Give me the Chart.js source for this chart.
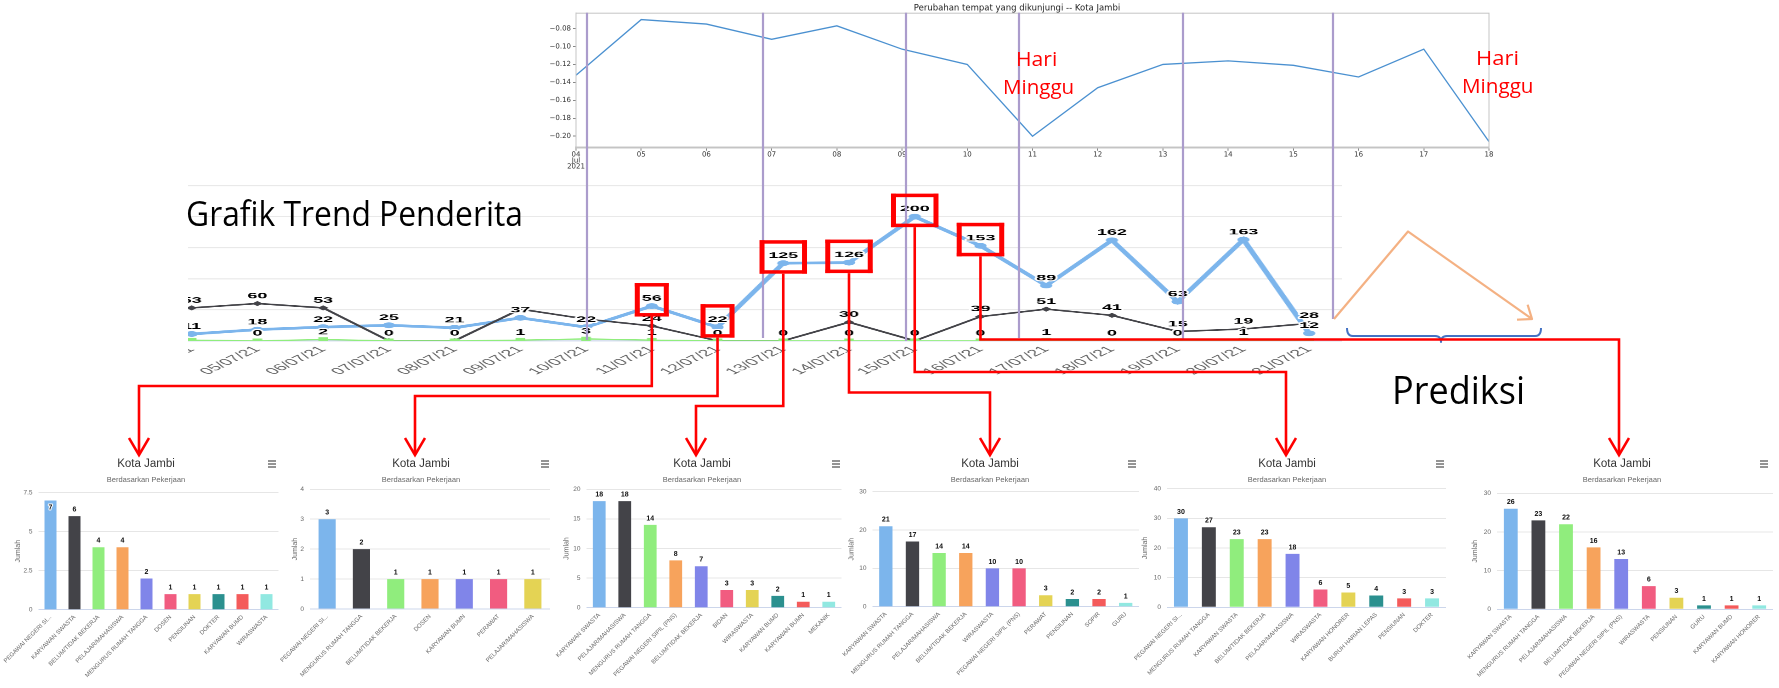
<!DOCTYPE html>
<html><head><meta charset="utf-8">
<script src="https://cdn.jsdelivr.net/npm/chart.js@4.4.1/dist/chart.umd.min.js"></script>
<style>
html,body{margin:0;padding:0;background:#fff;width:1779px;height:688px;overflow:hidden;position:relative}
canvas{display:block}
.txt{position:absolute;white-space:nowrap;line-height:1;font-family:"Open Sans","Noto Sans",sans-serif;transform-origin:0 0;z-index:12}
</style></head><body>
<script>
// ---------------- DATA ----------------
const mobilityDates = ['04','05','06','07','08','09','10','11','12','13','14','15','16','17','18'];
const mobilityValues = [-0.132,-0.070,-0.075,-0.092,-0.077,-0.103,-0.120,-0.200,-0.146,-0.120,-0.116,-0.121,-0.134,-0.103,-0.206];
const mobilityTicks = [-0.08,-0.10,-0.12,-0.14,-0.16,-0.18,-0.20];
const mobilityTitle = 'Perubahan tempat yang dikunjungi -- Kota Jambi';

const trendDates = ['04/07/21','05/07/21','06/07/21','07/07/21','08/07/21','09/07/21','10/07/21','11/07/21','12/07/21','13/07/21','14/07/21','15/07/21','16/07/21','17/07/21','18/07/21','19/07/21','20/07/21','21/07/21'];
const trendBlue  = [11,18,22,25,21,37,22,56,22,125,126,200,153,89,162,63,163,12];
const trendDark  = [53,60,53,0,0,51,35,24,0,0,30,0,39,51,41,15,19,28];
const trendGreen = [1,0,2,0,0,1,3,1,0,0,0,0,0,1,0,0,1,0];
const trendGridTicks = [0,50,100,150,200,250];
const highlightIdx = [7,8,9,10,11,12];

const panelTitle = 'Kota Jambi';
const panelSubtitle = 'Berdasarkan Pekerjaan';
const yAxisTitle = 'Jumlah';

const p1Categories = ['PEGAWAI NEGERI SI...','KARYAWAN SWASTA','BELUM/TIDAK BEKERJA','PELAJAR/MAHASISWA','MENGURUS RUMAH TANGGA','DOSEN','PENSIUNAN','DOKTER','KARYAWAN BUMD','WIRASWASTA'];
const p1Values = [7,6,4,4,2,1,1,1,1,1];
const p2Categories = ['PEGAWAI NEGERI SI...','MENGURUS RUMAH TANGGA','BELUM/TIDAK BEKERJA','DOSEN','KARYAWAN BUMN','PERAWAT','PELAJAR/MAHASISWA'];
const p2Values = [3,2,1,1,1,1,1];
const p3Categories = ['KARYAWAN SWASTA','PELAJAR/MAHASISWA','MENGURUS RUMAH TANGGA','PEGAWAI NEGERI SIPIL (PNS)','BELUM/TIDAK BEKERJA','BIDAN','WIRASWASTA','KARYAWAN BUMD','KARYAWAN BUMN','MEKANIK'];
const p3Values = [18,18,14,8,7,3,3,2,1,1];
const p4Categories = ['KARYAWAN SWASTA','MENGURUS RUMAH TANGGA','PELAJAR/MAHASISWA','BELUM/TIDAK BEKERJA','WIRASWASTA','PEGAWAI NEGERI SIPIL (PNS)','PERAWAT','PENSIUNAN','SOPIR','GURU'];
const p4Values = [21,17,14,14,10,10,3,2,2,1];
const p5Categories = ['PEGAWAI NEGERI SI...','MENGURUS RUMAH TANGGA','KARYAWAN SWASTA','BELUM/TIDAK BEKERJA','PELAJAR/MAHASISWA','WIRASWASTA','KARYAWAN HONORER','BURUH HARIAN LEPAS','PENSIUNAN','DOKTER'];
const p5Values = [30,27,23,23,18,6,5,4,3,3];
const p6Categories = ['KARYAWAN SWASTA','MENGURUS RUMAH TANGGA','PELAJAR/MAHASISWA','BELUM/TIDAK BEKERJA','PEGAWAI NEGERI SIPIL (PNS)','WIRASWASTA','PENSIUNAN','GURU','KARYAWAN BUMD','KARYAWAN HONORER'];
const p6Values = [26,23,22,16,13,6,3,1,1,1];
const panelTickMax = [7.5,4,20,30,40,30];
const panelTickStep = [2.5,1,5,10,10,10];

// ---------------- STYLE / LAYOUT ----------------
const FONT = '"Liberation Sans", Arial, sans-serif';
const NARROW = '"Liberation Sans Narrow", "Liberation Sans", Arial, sans-serif';
const palette = ['#7cb5ec','#434348','#90ed7d','#f7a35c','#8085e9','#f15c80','#e4d354','#2b908f','#f45b5b','#91e8e1'];

function addCanvas(parent, left, top, w, h, extra){
  const c = document.createElement('canvas');
  c.width = w; c.height = h;
  c.style.cssText = `position:absolute;left:${left}px;top:${top}px;width:${w}px;height:${h}px;` + (extra||'');
  parent.appendChild(c);
  return c;
}

// ---------- top chart (mobility) ----------
const topFrame = {id:'topFrame', afterDraw(c){const a=c.chartArea,ctx=c.ctx;ctx.save();ctx.strokeStyle='#c4c4c4';ctx.lineWidth=1;
  ctx.strokeRect(a.left,a.top,a.right-a.left,a.bottom-a.top);ctx.restore();}};
const topCanvas = addCanvas(document.body, 545, 0, 975, 172, 'z-index:3;');
new Chart(topCanvas, {
  type:'line',
  data:{labels: mobilityDates.map((d,i)=> i===0 ? [d,'Jul','2021'] : d),
        datasets:[{data:mobilityValues, borderColor:'#4a90d0', borderWidth:1.3, pointRadius:0, tension:0, fill:false}]},
  options:{responsive:false, animation:false, devicePixelRatio:2,
    layout:{padding:{left:0,right:31,top:0,bottom:0}},
    plugins:{legend:{display:false}, tooltip:{enabled:false},
      title:{display:true, text:mobilityTitle, color:'#222', font:{size:8.5,family:'"DejaVu Sans", sans-serif',weight:'normal'}, padding:{top:3,bottom:0}}},
    scales:{
      x:{offset:false, grid:{drawOnChartArea:false, drawTicks:true, tickLength:3, color:'#888'}, border:{display:true,color:'#c8c8c8',width:2},
         ticks:{color:'#333', font:{size:7, family:'"DejaVu Sans", sans-serif', lineHeight:0.85}, maxRotation:0, autoSkip:false, padding:1},
         afterFit(s){s.height=24.3; s.paddingLeft=0; s.paddingRight=0;}},
      y:{min:-0.2128, max:-0.0629, afterBuildTicks(s){s.ticks = mobilityTicks.map(v=>({value:v}));},
         grid:{drawOnChartArea:false, drawTicks:true, tickLength:3, color:'#888'}, border:{display:true,color:'#c4c4c4'},
         ticks:{color:'#333', font:{size:7, family:'"DejaVu Sans", sans-serif'}, padding:2, callback:v=>'\u2212'+Math.abs(v).toFixed(2)},
         afterFit(s){s.width=31; s.paddingTop=0; s.paddingBottom=0;}}
    }
  },
  plugins:[topFrame]
});

// ---------- trend chart ----------
const SX = 1.7, SY = 0.8, WRAP_L = 188, WRAP_T = 170, CV_L = -36;
const wrap = document.createElement('div');
wrap.style.cssText = `position:absolute;left:${WRAP_L}px;top:${WRAP_T}px;width:${1779-WRAP_L}px;height:240px;overflow:hidden;z-index:2;`;
document.body.appendChild(wrap);
const trendCanvas = addCanvas(wrap, CV_L, 0, 704, 274, 'transform:scale('+SX+','+SY+');transform-origin:0 0;');

const trendLabels = {id:'trendLabels', afterDatasetsDraw(chart){
  const ctx = chart.ctx; ctx.save();
  ctx.font = 'bold 10.5px ' + FONT; ctx.textAlign='center'; ctx.textBaseline='middle'; ctx.lineJoin='round';
  const placed = [];
  chart.data.datasets.forEach((ds,di)=>{
    chart.getDatasetMeta(di).data.forEach((pt,i)=>{
      const t = String(ds.data[i]); const x = pt.x, y = pt.y - 9.5; const w = ctx.measureText(t).width;
      if (placed.some(p => Math.abs(p.x-x) < (p.w+w)/2 && Math.abs(p.y-y) < 11.2)) return;
      placed.push({x,y,w});
      ctx.lineWidth = 2.6; ctx.strokeStyle = '#fff'; ctx.strokeText(t,x,y);
      ctx.fillStyle = '#000'; ctx.fillText(t,x,y);
    });
  });
  ctx.restore();
}};

const trendChart = new Chart(trendCanvas, {
  type:'line',
  data:{labels:trendDates, datasets:[
    {data:trendBlue, borderColor:'#7cb5ec', backgroundColor:'#7cb5ec', borderWidth:3.5, pointStyle:'circle', pointRadius:3.6, pointBorderWidth:0, pointBackgroundColor:'#7cb5ec', tension:0, order:3},
    {data:trendDark, borderColor:'#434348', backgroundColor:'#434348', borderWidth:2, pointStyle:'rectRot', pointRadius:3.2, pointBorderWidth:0, pointBackgroundColor:'#434348', tension:0, order:2},
    {data:trendGreen, borderColor:'#90ed7d', backgroundColor:'#90ed7d', borderWidth:1.6, pointStyle:'rect', pointRadius:4, pointBorderWidth:0, pointBackgroundColor:'#90ed7d', tension:0, order:1}
  ]},
  options:{responsive:false, animation:false, devicePixelRatio:2,
    layout:{padding:{left:0,right:3.4,top:19.5,bottom:0}},
    plugins:{legend:{display:false}, tooltip:{enabled:false}},
    scales:{
      x:{offset:true, grid:{display:false, drawTicks:false}, border:{display:false},
         ticks:{color:'#666', font:{size:11.5, family:FONT}, minRotation:45, maxRotation:45, autoSkip:false, padding:4},
         afterFit(s){s.height=60.5; s.paddingLeft=0; s.paddingRight=0;}},
      y:{min:0, max:250, afterBuildTicks(s){s.ticks = trendGridTicks.map(v=>({value:v}));},
         ticks:{display:false}, border:{display:false},
         grid:{color:c=>c.tick.value===0?'#ccd6eb':'#e9e9e9', drawTicks:false, lineWidth:1.2},
         afterFit(s){s.width=0; s.paddingTop=0; s.paddingBottom=0;}}
    }
  },
  plugins:[trendLabels]
});

// ---------- bar panels ----------
const panelLayouts = [
  {canvasLeft:0,    canvasRight:292,  plotL:38.5,  plotR:278.5, plotTop:492.7, plotBottom:609.7, titleX:146,  menuX:272,  yTitleX:18},
  {canvasLeft:262,  canvasRight:558,  plotL:310,   plotR:550,   plotTop:489.3, plotBottom:609,   titleX:421,  menuX:545,  yTitleX:295},
  {canvasLeft:530,  canvasRight:850,  plotL:586.5, plotR:841.5, plotTop:489.3, plotBottom:607.7, titleX:702,  menuX:836,  yTitleX:566.7},
  {canvasLeft:810,  canvasRight:1147, plotL:872.5, plotR:1139,  plotTop:491.7, plotBottom:606.7, titleX:990,  menuX:1132, yTitleX:851.7},
  {canvasLeft:1100, canvasRight:1454, plotL:1167,  plotR:1446,  plotTop:488.7, plotBottom:607.3, titleX:1287, menuX:1440, yTitleX:1145},
  {canvasLeft:1440, canvasRight:1779, plotL:1497,  plotR:1773,  plotTop:493.3, plotBottom:609.3, titleX:1622, menuX:1764, yTitleX:1475}
];
const PANEL_TOP = 450, PANEL_H = 238;

const barLabels = {id:'barLabels', afterDatasetsDraw(chart){
  const ctx = chart.ctx, ds = chart.data.datasets[0]; ctx.save();
  ctx.font = 'bold 7px ' + FONT; ctx.textAlign='center'; ctx.textBaseline='middle'; ctx.lineJoin='round';
  chart.getDatasetMeta(0).data.forEach((b,i)=>{
    let y = b.y - 6.5; if (y - 4 < chart.chartArea.top) y = b.y + 7;
    const t = String(ds.data[i]);
    ctx.lineWidth = 2; ctx.strokeStyle='#fff'; ctx.strokeText(t,b.x,y);
    ctx.fillStyle = '#111'; ctx.fillText(t,b.x,y);
  });
  ctx.restore();
}};
function panelDecor(L){ return {id:'panelDecor', afterDraw(chart){
  const ctx = chart.ctx, ox = L.canvasLeft, oy = PANEL_TOP; ctx.save();
  ctx.textAlign='center'; ctx.textBaseline='middle';
  ctx.font = '11.5px ' + NARROW; ctx.fillStyle = '#333'; ctx.fillText(panelTitle, L.titleX-ox, 464-oy);
  ctx.font = '7.5px ' + NARROW; ctx.fillStyle = '#666'; ctx.fillText(panelSubtitle, L.titleX-ox, 480-oy);
  ctx.strokeStyle = '#666'; ctx.lineWidth = 1.4;
  [-3,0,3].forEach(k=>{ctx.beginPath(); ctx.moveTo(L.menuX-ox-4, 464-oy+k); ctx.lineTo(L.menuX-ox+4, 464-oy+k); ctx.stroke();});
  ctx.restore();
}};}

function makePanel(idx, cats, vals){
  const L = panelLayouts[idx];
  const w = L.canvasRight - L.canvasLeft;
  const c = addCanvas(document.body, L.canvasLeft, PANEL_TOP, w, PANEL_H, 'z-index:1;');
  const axisBoxLeft = L.yTitleX - 5;
  new Chart(c, {
    type:'bar',
    data:{labels:cats, datasets:[{data:vals, backgroundColor:palette.slice(0, vals.length), borderWidth:0, barPercentage:0.5, categoryPercentage:1}]},
    options:{responsive:false, animation:false, devicePixelRatio:2,
      layout:{padding:{left:axisBoxLeft-L.canvasLeft, right:L.canvasRight-L.plotR, top:L.plotTop-PANEL_TOP, bottom:0}},
      plugins:{legend:{display:false}, tooltip:{enabled:false}},
      scales:{
        x:{grid:{display:false, drawTicks:false}, border:{display:false},
           ticks:{color:'#666', font:{size:6, family:FONT}, minRotation:45, maxRotation:45, autoSkip:false, padding:4},
           afterFit(s){s.height = PANEL_TOP + PANEL_H - L.plotBottom; s.paddingLeft=0; s.paddingRight=0;}},
        y:{min:0, max:panelTickMax[idx], ticks:{stepSize:panelTickStep[idx], color:'#666', font:{size:6.5, family:FONT}, padding:6},
           grid:{color:c=>c.tick.value===0?'#ccd6eb':'#e6e6e6', drawTicks:false}, border:{display:false},
           title:{display:true, text:yAxisTitle, color:'#666', font:{size:7, family:FONT}, padding:{top:0.8,bottom:0}},
           afterFit(s){s.width = L.plotL - axisBoxLeft; s.paddingTop=0; s.paddingBottom=0;}}
      }
    },
    plugins:[barLabels, panelDecor(L)]
  });
}
makePanel(0, p1Categories, p1Values);
makePanel(1, p2Categories, p2Values);
makePanel(2, p3Categories, p3Values);
makePanel(3, p4Categories, p4Values);
makePanel(4, p5Categories, p5Values);
makePanel(5, p6Categories, p6Values);

// ---------- overlay annotations ----------
const guideX = [587, 763, 906, 1019, 1183, 1333];
const guideBottom = [340, 338, 341, 338, 340, 319];
const linkLevel = [386, 396, 406, 392.5, 372, 339.5];
const linkTarget = [139, 415, 696, 990, 1286, 1619];
const arrowTipY = 455;

const ov = addCanvas(document.body, 0, 0, 1779, 688, 'z-index:10;pointer-events:none;');
ov.width = 1779*2; ov.height = 688*2;
(function(){
  const ctx = ov.getContext('2d'); ctx.scale(2,2);
  // purple guide lines
  ctx.strokeStyle = '#ab9ccc'; ctx.lineWidth = 2.2;
  guideX.forEach((x,k)=>{ctx.beginPath(); ctx.moveTo(x,12.7); ctx.lineTo(x,guideBottom[k]); ctx.stroke();});
  // orange prediction arrow
  ctx.strokeStyle = '#f4b183'; ctx.lineWidth = 2.2; ctx.lineJoin='round';
  const a0=[1334,319], a1=[1408,231.5], a2=[1532,319];
  ctx.beginPath(); ctx.moveTo(a0[0],a0[1]); ctx.lineTo(a1[0],a1[1]); ctx.lineTo(a2[0],a2[1]); ctx.stroke();
  const ang = Math.atan2(a2[1]-a1[1], a2[0]-a1[0]) + Math.PI;
  ctx.beginPath();
  ctx.moveTo(a2[0]+15*Math.cos(ang-0.66), a2[1]+15*Math.sin(ang-0.66));
  ctx.lineTo(a2[0],a2[1]);
  ctx.lineTo(a2[0]+15*Math.cos(ang+0.66), a2[1]+15*Math.sin(ang+0.66));
  ctx.stroke();
  // blue brace
  ctx.strokeStyle = '#4472c4'; ctx.lineWidth = 2;
  ctx.beginPath(); ctx.moveTo(1347,328); ctx.quadraticCurveTo(1347,336,1353,336); ctx.lineTo(1435,336);
  ctx.quadraticCurveTo(1441,336,1441,342); ctx.quadraticCurveTo(1441,336,1447,336); ctx.lineTo(1535,336);
  ctx.quadraticCurveTo(1541,336,1541,328); ctx.stroke();
  // red boxes and connectors
  const meta = trendChart.getDatasetMeta(0);
  ctx.fillStyle = '#ff0000'; ctx.strokeStyle = '#ff0000'; ctx.lineJoin='miter';
  highlightIdx.forEach((idx,k)=>{
    const p = meta.data[idx];
    const px = WRAP_L + CV_L + p.x*SX, py = WRAP_T + p.y*SY;
    const w = 7 + 13.5*String(trendBlue[idx]).length;
    const top = py - 23, bot = py + 10.5, l = px - w/2;
    ctx.fillRect(l, top, w, 3.5); ctx.fillRect(l, bot-3.5, w, 3.5);
    ctx.fillRect(l, top, 5, bot-top); ctx.fillRect(l+w-5, top, 5, bot-top);
    ctx.lineWidth = 2.6;
    ctx.beginPath(); ctx.moveTo(px, bot); ctx.lineTo(px, linkLevel[k]); ctx.lineTo(linkTarget[k], linkLevel[k]); ctx.lineTo(linkTarget[k], arrowTipY); ctx.stroke();
    ctx.beginPath(); ctx.moveTo(linkTarget[k]-10, arrowTipY-17); ctx.lineTo(linkTarget[k], arrowTipY); ctx.lineTo(linkTarget[k]+10, arrowTipY-17); ctx.stroke();
  });
})();

// ---------- free texts ----------
function placeText(t, x, baseline, size, targetW, color, center){
  const s = document.createElement('div'); s.className='txt'; s.textContent = t;
  s.style.fontSize = size+'px'; s.style.color = color; s.style.top = (baseline - 0.888*size)+'px';
  document.body.appendChild(s);
  const mw = s.getBoundingClientRect().width;
  s.style.transform = 'scaleX(' + (targetW/mw) + ')';
  s.style.left = (center ? x - targetW/2 : x) + 'px';
}
placeText('Grafik Trend Penderita', 185.7, 226.7, 34.2, 337, '#000', false);
placeText('Prediksi', 1392, 404.5, 37.5, 133, '#000', false);
placeText('Hari', 1036.4, 66.7, 19.5, 41.3, '#ff0000', true);
placeText('Minggu', 1039, 94.3, 19.5, 71.2, '#ff0000', true);
placeText('Hari', 1497, 65, 19.5, 43, '#ff0000', true);
placeText('Minggu', 1498, 93, 19.5, 71.5, '#ff0000', true);
</script>
</body></html>
